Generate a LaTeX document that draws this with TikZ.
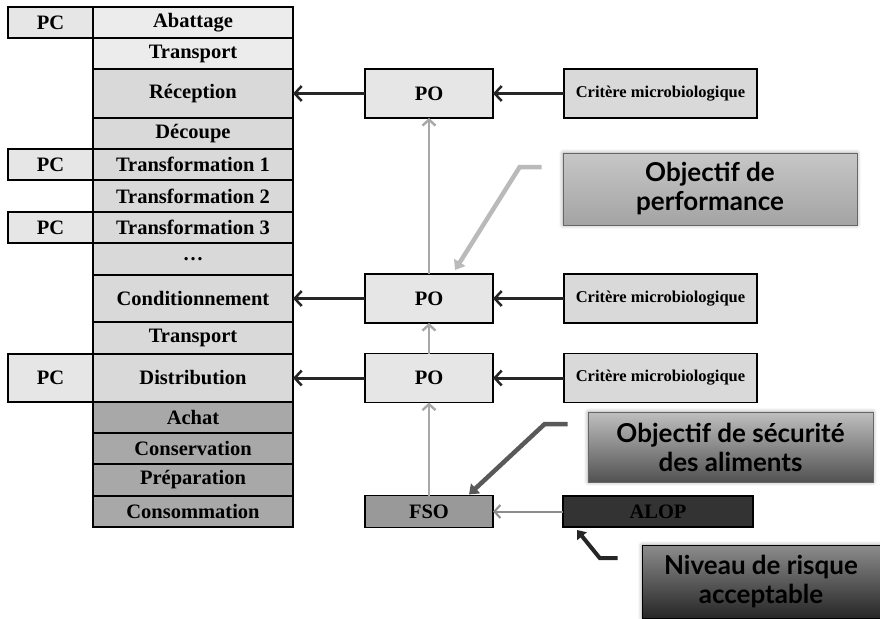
\documentclass[tikz,border=0pt]{standalone}
\usepackage{fontspec}
\setmainfont{Liberation Serif}
\newfontfamily\calloutfont{Lato}
\usepackage{tikz}
\usetikzlibrary{arrows.meta, positioning, calc, shadows.blur}
\definecolor{lightrow}{HTML}{ECECEC}
\definecolor{midrow}{HTML}{D9D9D9}
\definecolor{darkrow}{HTML}{A8A8A8}
\definecolor{pcfill}{HTML}{E6E6E6}
\definecolor{upline}{HTML}{A8A8A8}

\begin{document}
\begin{tikzpicture}[
  x=1pt, y=-1pt,
  node distance=0pt,
  stage/.style={draw, line width=1.2pt, outer sep=0pt, inner sep=0pt,
                minimum width=200pt, minimum height=#1,
                font=\fontsize{20.5}{22}\selectfont\bfseries},
  stage/.default=31pt,
  pc/.style={stage=#1, minimum width=85pt, fill=pcfill},
  pc/.default=31pt,
  po/.style={draw, line width=1.2pt, outer sep=0pt, minimum width=128pt,
             minimum height=49pt, fill=pcfill,
             font=\fontsize{20.5}{22}\selectfont\bfseries},
  crit/.style={po, minimum width=193pt, fill=midrow,
               font=\fontsize{16.5}{18}\selectfont\bfseries},
  callout/.style={draw=black!60, line width=0.6pt, align=center,
                  inner sep=0pt, font=\calloutfont\fontsize{26}{29}\selectfont\bfseries,
                  blur shadow={shadow xshift=0pt, shadow yshift=0pt, shadow blur radius=4pt}},
  blk/.style={draw=black!85, line width=3pt, -{Straight Barb[length=7pt, width=15pt, line width=2.5pt]}},
  up/.style={draw=upline, line width=2.6pt, -{Straight Barb[length=6pt, width=13pt, line width=2.4pt]}},
  every edge/.style={draw},
]
\useasboundingbox (0,0) rectangle (880,618);

% chaine alimentaire
\node[stage, fill=lightrow, anchor=north west] (abat) at (93,7) {Abattage};
\node[stage, fill=lightrow, below=of abat] (trans1) {Transport};
\node[stage=49pt, fill=midrow, below=of trans1] (recep) {Réception};
\node[stage, fill=midrow, below=of recep] (decoup) {Découpe};
\node[stage, fill=midrow, below=of decoup] (transf1) {Transformation 1};
\node[stage=32pt, fill=midrow, below=of transf1] (transf2) {Transformation 2};
\node[stage, fill=midrow, below=of transf2] (transf3) {Transformation 3};
\node[stage=32pt, fill=midrow, below=of transf3] (dots) {\dots};
\node[stage=47pt, fill=midrow, below=of dots] (cond) {Conditionnement};
\node[stage=32pt, fill=midrow, below=of cond] (trans2) {Transport};
\node[stage=48pt, fill=midrow, below=of trans2] (distr) {Distribution};
\node[stage, fill=darkrow, below=of distr] (achat) {Achat};
\node[stage, fill=darkrow, below=of achat] (conserv) {Conservation};
\node[stage=32pt, fill=darkrow, below=of conserv] (prepa) {Préparation};
\node[stage, fill=darkrow, below=of prepa] (conso) {Consommation};

% points de controle
\node[pc, left=of abat] (pc1) {PC};
\node[pc, left=of transf1] (pc2) {PC};
\node[pc, left=of transf3] (pc3) {PC};
\node[pc=48pt, left=of distr] (pc4) {PC};

% objectifs
\node[po, right=72pt of recep] (po1) {PO};
\node[po, right=72pt of cond] (po2) {PO};
\node[po, right=72pt of distr] (po3) {PO};
\node[po, minimum height=32pt, fill=black!40, right=72pt of conso] (fso) {FSO};

\node[crit, right=71pt of po1] (crit1) {Critère microbiologique};
\node[crit, right=71pt of po2] (crit2) {Critère microbiologique};
\node[crit, right=71pt of po3] (crit3) {Critère microbiologique};
\node[crit, minimum width=190pt, minimum height=31pt, fill=black!80,
      font=\fontsize{20.5}{22}\selectfont\bfseries, right=70pt of fso] (alop) {ALOP};

\path (po1) edge[blk] (recep)
      (po2) edge[blk] (cond)
      (po3) edge[blk] (distr);
\path (crit1) edge[blk] (po1)
      (crit2) edge[blk] (po2)
      (crit3) edge[blk] (po3);
\path (fso) edge[up] (po3)
      (po3) edge[up] (po2)
      (po2) edge[up] (po1);
\path (alop) edge[draw=black!45, line width=2pt,
                  -{Straight Barb[length=6pt, width=13pt, line width=2pt]}] (fso);

% bulles
\node[callout, minimum width=294pt, minimum height=72pt,
      top color=black!22, bottom color=black!36] (perf) at (710,189)
      {Objectif de\\performance};
\node[callout, minimum width=285pt, minimum height=70pt,
      top color=black!25, bottom color=black!68] (secu) at (730.5,447)
      {Objectif de sécurité\\des aliments};
\node[callout, draw=black, minimum width=238pt, minimum height=73pt,
      top color=black!45, bottom color=black!85] (risk) at (761,581.5)
      {Niveau de risque\\acceptable};

\coordinate (perftail) at ($(perf.west)+(-21,-22)$);
\coordinate (perftip)  at ($(po2.north)+(26,-4)$);
\coordinate (secutail) at ($(secu.west)+(-20,-23)$);
\coordinate (secutip)  at ($(fso.north)+(40,-1)$);
\coordinate (risktail) at ($(risk.west)+(-24,-23.5)$);
\coordinate (risktip)  at ($(alop.south west)+(14,3)$);

\draw[black!27, line width=4.5pt, -{Triangle[length=9pt, width=13pt]}]
  (perftail) -- ++(-22,0) -- (perftip);
\draw[black!65, line width=4.5pt, -{Triangle[length=9pt, width=13pt]}]
  (secutail) -- ++(-23,0) -- (secutip);
\draw[black!85, line width=4pt, -{Triangle[length=8pt, width=12pt]}]
  (risktail) -- ++(-18,0) -- (risktip);
\end{tikzpicture}
\end{document}
